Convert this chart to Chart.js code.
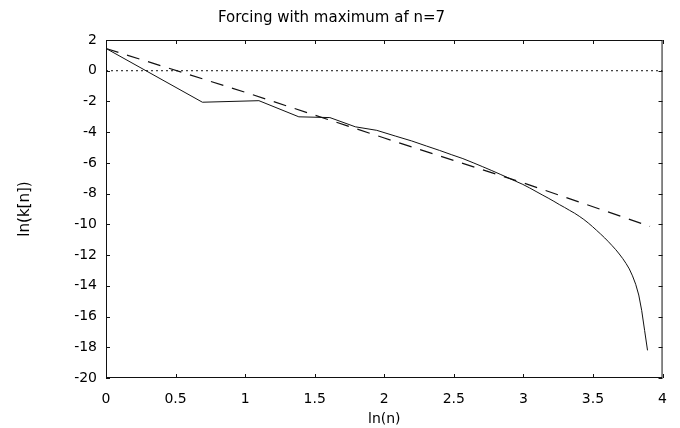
<!DOCTYPE html>
<html>
<head>
<meta charset="utf-8">
<script src="https://cdn.jsdelivr.net/npm/chart.js@4/dist/chart.umd.min.js"></script>
<style>
  html, body { margin: 0; padding: 0; background: #fff; }
  #wrap { width: 680px; height: 428px; }
</style>
</head>
<body>
<div id="wrap"><canvas id="forcingChart"></canvas></div>
<script>
// ln(n) for n = 1..49
const lnN = [0, 0.693, 1.099, 1.386, 1.609, 1.792, 1.946, 2.079, 2.197, 2.303,
    2.398, 2.485, 2.565, 2.639, 2.708, 2.773, 2.833, 2.890, 2.944, 2.996,
    3.045, 3.091, 3.135, 3.178, 3.219, 3.258, 3.296, 3.332, 3.367, 3.401,
    3.434, 3.466, 3.497, 3.526, 3.555, 3.584, 3.611, 3.638, 3.664, 3.689,
    3.714, 3.738, 3.761, 3.784, 3.807, 3.829, 3.850, 3.871, 3.892];
// ln(k[n])
const lnK = [1.45, -2.05, -1.95, -3.0, -3.05, -3.65, -3.88, -4.25, -4.57, -4.9,
    -5.19, -5.47, -5.72, -5.99, -6.25, -6.5, -6.74, -6.97, -7.19, -7.4,
    -7.63, -7.86, -8.08, -8.29, -8.5, -8.71, -8.9, -9.09, -9.27, -9.47,
    -9.68, -9.91, -10.15, -10.39, -10.63, -10.88, -11.13, -11.39, -11.65, -11.93,
    -12.23, -12.55, -12.9, -13.35, -13.9, -14.6, -15.6, -16.9, -18.2];
// dashed reference line
const fitX = [0, 1, 2, 3, 3.91];
const fitY = [1.45, -1.4, -4.38, -7.3, -10.13];
// dotted zero line
const zeroX = [0, 4];
const zeroY = [0, 0];

const toPoints = (xs, ys) => xs.map((x, i) => ({x: x, y: ys[i]}));

// box round the plot with inward tick marks
const frame = {
    id: 'frame',
    afterDatasetsDraw(chart) {
        const {ctx, chartArea: a, scales: {x, y}} = chart;
        ctx.save();
        ctx.strokeStyle = '#111';
        ctx.lineWidth = 1;
        ctx.strokeRect(a.left + 0.5, a.top + 0.5, a.width - 1, a.height - 1);
        ctx.beginPath();
        y.ticks.forEach(t => {
            const p = Math.round(y.getPixelForValue(t.value)) + 0.5;
            ctx.moveTo(a.left, p); ctx.lineTo(a.left + 4, p);
            ctx.moveTo(a.right, p); ctx.lineTo(a.right - 4, p);
        });
        x.ticks.forEach(t => {
            const p = Math.round(x.getPixelForValue(t.value)) + 0.5;
            ctx.moveTo(p, a.bottom); ctx.lineTo(p, a.bottom - 4);
            ctx.moveTo(p, a.top); ctx.lineTo(p, a.top + 4);
        });
        ctx.stroke();
        ctx.restore();
    }
};

Chart.defaults.font.family = "'DejaVu Sans', sans-serif";
Chart.defaults.color = '#000';

new Chart('forcingChart', {
    type: 'scatter',
    data: {
        datasets: [{
            data: toPoints(zeroX, zeroY),
            showLine: true,
            borderColor: '#111',
            borderWidth: 1,
            borderDash: [2, 3],
            pointRadius: 0
        }, {
            data: toPoints(fitX, fitY),
            showLine: true,
            borderColor: '#111',
            borderWidth: 1.2,
            borderDash: [13, 9],
            pointRadius: 0
        }, {
            data: toPoints(lnN, lnK),
            showLine: true,
            borderColor: '#111',
            borderWidth: 1,
            pointRadius: 0
        }]
    },
    options: {
        responsive: true,
        maintainAspectRatio: false,
        animation: false,
        layout: {padding: {left: 0, right: 17, top: 0, bottom: 0}},
        plugins: {
            legend: {display: false},
            tooltip: {enabled: false},
            title: {
                display: true,
                text: 'Forcing with maximum af n=7',
                font: {size: 15, weight: 'normal'},
                color: '#000',
                padding: {top: 9, bottom: 13}
            }
        },
        scales: {
            x: {
                type: 'linear',
                min: 0,
                max: 4,
                ticks: {stepSize: 0.5, padding: 13, font: {size: 14}, maxRotation: 0,
                    callback: value => String(value)},
                grid: {display: false, drawTicks: false},
                border: {display: false},
                title: {display: true, text: 'ln(n)', font: {size: 14}, padding: {top: 0, bottom: 0}},
                afterFit(scale) { scale.height = 50; }
            },
            y: {
                type: 'linear',
                min: -20,
                max: 2,
                ticks: {stepSize: 2, padding: 9, font: {size: 14}},
                grid: {display: false, drawTicks: false},
                border: {display: false},
                title: {display: true, text: 'ln(k[n])', font: {size: 15}, padding: {top: 16, bottom: 0}},
                afterFit(scale) { scale.width = 106; }
            }
        }
    },
    plugins: [frame]
});
</script>
</body>
</html>
